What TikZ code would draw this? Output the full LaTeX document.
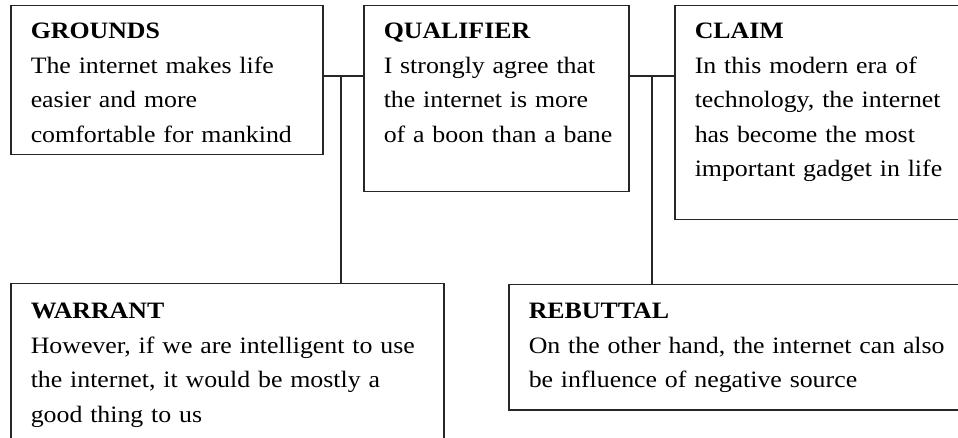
\documentclass[tikz,border=0pt]{standalone}
\usepackage{fontspec}
\setmainfont{Liberation Serif}[FakeStretch=1.1]
\usetikzlibrary{calc}

\tikzset{
    ToulminBox/.style={draw=black!85, line width=1.5pt, anchor=north west, align=left,
        inner xsep=20pt, inner ysep=0pt, text height=33pt,
        font=\fontsize{23.5}{34.5}\selectfont},
    LinkStyle/.style={draw=black!85, line width=1.3pt}
}

\begin{document}
\begin{tikzpicture}[x=1pt,y=-1pt]
            \useasboundingbox (0,0) rectangle (958,438);
            \clip (0,0) rectangle (958,438);

            \node[ToulminBox, text width=272pt, text depth=116pt] (grounds) at (10,5)
                {\textbf{GROUNDS}\\The internet makes life\\easier and more\\comfortable for mankind};
            \node[ToulminBox, text width=225pt, text depth=153pt] (qualifier) at (363,5)
                {\textbf{QUALIFIER}\\I strongly agree that\\the internet is more\\\mbox{of a boon than a bane}};
            \node[ToulminBox, text width=280pt, text depth=181pt] (claim) at (674,5)
                {\textbf{CLAIM}\\In this modern era of\\technology, the internet\\has become the most\\important gadget in life};

            \node[ToulminBox, text width=393pt, text height=35pt, text depth=152pt] (warrant) at (10,283)
                {\textbf{WARRANT}\\However, if we are intelligent to use\\the internet, it would be mostly a\\good thing to us};
            \node[ToulminBox, text width=440pt, text height=34pt, text depth=91pt] (rebuttal) at (508,284)
                {\textbf{REBUTTAL}\\On the other hand, the internet can also\\be influence of negative source};

            \coordinate (wj) at (341,76);
            \coordinate (rj) at (652,76);

            \draw[LinkStyle] (grounds.east |- wj) -- (qualifier.west |- wj);
            \draw[LinkStyle] (wj) -- (warrant.north -| wj);
            \draw[LinkStyle] (qualifier.east |- rj) -- (claim.west |- rj);
            \draw[LinkStyle] (rj) -- (rebuttal.north -| rj);
\end{tikzpicture}
\end{document}
